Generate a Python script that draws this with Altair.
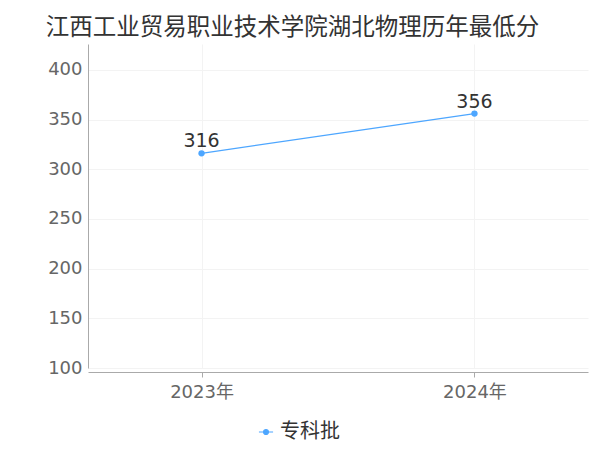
import altair as alt
import pandas as pd

years = ["2023年", "2024年"]
scores = [316, 356]
series = ["专科批", "专科批"]

df = pd.DataFrame({"year": years, "score": scores, "batch": series})

color = "#4DA6FF"
font = "DejaVu Sans, Noto Sans CJK SC"
cjk = "Noto Sans CJK SC"

base = alt.Chart(df).encode(
    x=alt.X("year:N", sort=years, title=None,
            scale=alt.Scale(type="point", padding=0.416),
            axis=alt.Axis(labelAngle=0, labelFontSize=18, labelColor="#666666",
                          labelFont=font, domainColor="#aaaaaa", tickColor="#aaaaaa",
                          tickSize=5, labelPadding=6, offset=4,
                          grid=True, gridColor="#f3f3f3")),
    y=alt.Y("score:Q", title=None,
            scale=alt.Scale(domain=[100, 426], nice=False, zero=False),
            axis=alt.Axis(values=[100, 150, 200, 250, 300, 350, 400],
                          labelFontSize=18, labelColor="#666666", labelFont=font,
                          domainColor="#aaaaaa", ticks=False, labelPadding=6,
                          grid=True, gridColor="#f3f3f3")),
)

line = base.mark_line(strokeWidth=1.2, point=alt.OverlayMarkDef(filled=True, size=40)).encode(
    color=alt.Color("batch:N", title=None,
                    scale=alt.Scale(range=[color]),
                    legend=alt.Legend(orient="none", legendX=168, legendY=378,
                                      labelFontSize=20, labelColor="#333333", labelFont=cjk,
                                      symbolType="M-1,0H1M-0.35,0A0.35,0.35,0,1,1,0.35,0A0.35,0.35,0,1,1,-0.35,0",
                                      symbolSize=200, symbolStrokeWidth=1.2,
                                      symbolFillColor=color, symbolStrokeColor=color,
                                      labelOffset=4))
)

labels = base.mark_text(dy=-12, fontSize=19, color="#333333", font=font).encode(
    text=alt.Text("score:Q")
)

chart = (line + labels).properties(
    width=500, height=324,
    padding={"left": 80, "top": 36, "right": 4, "bottom": 80},
    autosize=alt.AutoSizeParams(type="none"),
    title=alt.TitleParams("江西工业贸易职业技术学院湖北物理历年最低分",
                          anchor="start", dx=-2, fontSize=23.5, font=cjk,
                          fontWeight="normal", color="#333333", offset=5),
).configure_view(stroke=None)

chart.save("out.html", embed_options={"renderer": "svg", "actions": False})
